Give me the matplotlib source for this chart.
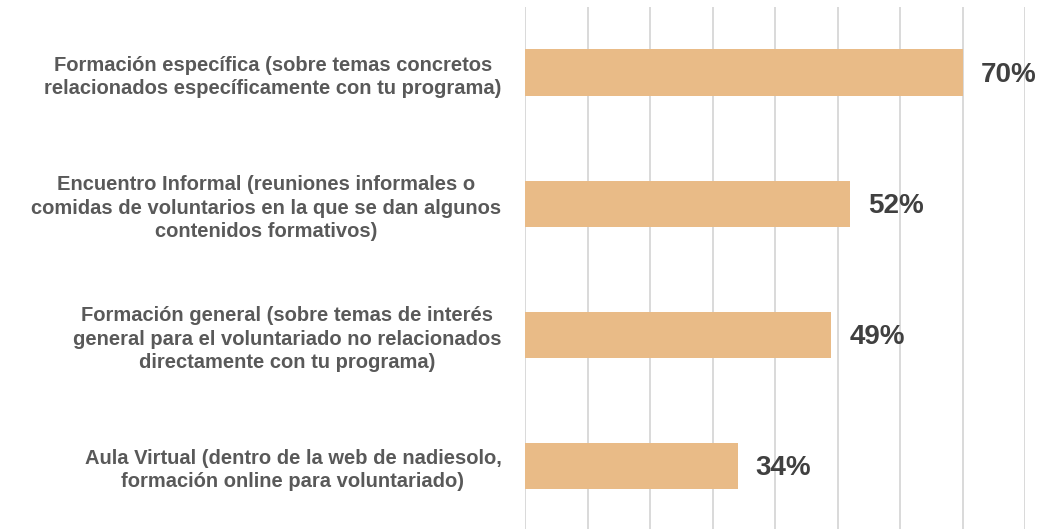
import matplotlib
matplotlib.use("Agg")
import matplotlib.pyplot as plt
import numpy as np

categories = [
    "Formación específica (sobre temas concretos\nrelacionados específicamente con tu programa)",
    "Encuentro Informal (reuniones informales o\ncomidas de voluntarios en la que se dan algunos\ncontenidos formativos)",
    "Formación general (sobre temas de interés\ngeneral para el voluntariado no relacionados\ndirectamente con tu programa)",
    "Aula Virtual (dentro de la web de nadiesolo,\nformación online para voluntariado)",
]
values = [70, 52, 49, 34]
value_labels = ["70%", "52%", "49%", "34%"]

plt.rcParams["font.family"] = ["Liberation Sans", "DejaVu Sans"]

W, H = 1039, 529
fig = plt.figure(figsize=(W / 100, H / 100), dpi=100)
left, right = 525 / W, 1025 / W
top_px, bottom_px = 7.3, 531.5
ax = fig.add_axes([left, 1 - bottom_px / H, right - left, (bottom_px - top_px) / H])

y = np.arange(len(categories))
ax.barh(y, values, height=0.356, color="#E9BB87", zorder=2)

ax.set_xlim(0, 80)
ax.set_ylim(3.5, -0.5)
ax.set_xticks(np.arange(0, 81, 10))
ax.grid(True, axis="x", color="#D9D9D9", linewidth=1.4, zorder=0)
ax.tick_params(axis="x", length=0, labelbottom=False)
ax.tick_params(axis="y", length=0, pad=17)
for s in ax.spines.values():
    s.set_visible(False)

ax.set_yticks(y)
ax.set_yticklabels(categories, fontsize=14.5, fontweight="bold", color="#595959", linespacing=1.3)
for lbl in ax.get_yticklabels():
    lbl.set_multialignment("center")

# value labels to the right of each bar
for yi, v, t in zip(y, values, value_labels):
    ax.annotate(t, xy=(v, yi), xytext=(18, -2), textcoords="offset pixels",
                ha="left", va="center", fontsize=20, fontweight="bold", color="#404040", zorder=3)

fig.savefig("out.png", dpi=100)
